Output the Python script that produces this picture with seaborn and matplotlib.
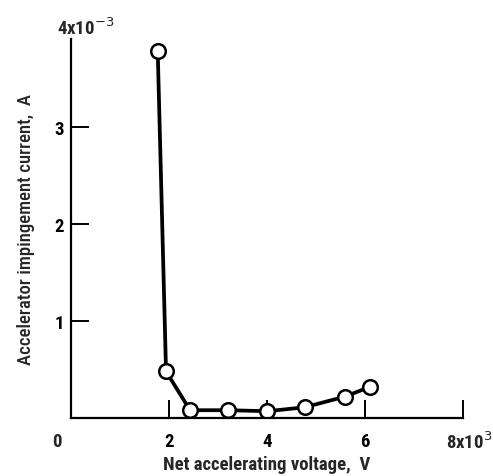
import matplotlib
matplotlib.use("Agg")
import matplotlib.pyplot as plt
import seaborn as sns
import pandas as pd
from matplotlib import font_manager

# Data (voltage in units of 10^3 V, current in units of 10^-3 A)
voltage = [1.77, 1.94, 2.43, 3.21, 4.01, 4.77, 5.59, 6.10]
current = [3.78, 0.48, 0.08, 0.08, 0.07, 0.11, 0.22, 0.32]
x_ticks = [2, 4, 6, 8]
x_tick_labels = ["2", "4", "6", ""]
y_ticks = [1, 2, 3]
y_tick_labels = ["1", "2", "3"]

df = pd.DataFrame({"voltage": voltage, "current": current})

sns.set_theme(style="ticks")
names = {f.name for f in font_manager.fontManager.ttflist}
fam = [f for f in ["Roboto Condensed", "Liberation Sans Narrow", "DejaVu Sans"] if f in names]
plt.rcParams["font.family"] = fam

fig = plt.figure(figsize=(4.93, 4.77), dpi=100)
ax = fig.add_axes([0.144, 0.1216, 0.795, 0.7944])

sns.lineplot(data=df, x="voltage", y="current", ax=ax, color="black",
             linewidth=2.7, marker="o", markersize=10.5, markerfacecolor="white",
             markeredgecolor="black", markeredgewidth=1.8, sort=False)

ax.set_xlim(0, 8)
ax.set_ylim(0, 3.9)
ax.set_xticks(x_ticks)
ax.set_xticklabels(x_tick_labels, fontweight="bold")
ax.set_yticks(y_ticks)
ax.set_yticklabels(y_tick_labels, fontweight="bold")
ax.tick_params(direction="in", length=13, width=1.4, labelsize=13.5, colors="black")
ax.tick_params(axis="x", pad=10)
ax.tick_params(axis="y", pad=5)
for s in ["top", "right"]:
    ax.spines[s].set_visible(False)
for s in ["left", "bottom"]:
    ax.spines[s].set_linewidth(1.6)
    ax.spines[s].set_color("black")

ax.set_xlabel("Net accelerating voltage,  V", fontsize=13.5, fontweight="bold", labelpad=4)
ax.set_ylabel("Accelerator impingement current,  A", fontsize=13.5, fontweight="medium", labelpad=14)

ax.text(-0.025, -0.062, "0", transform=ax.transAxes, ha="right", va="center",
        fontsize=13.5, fontweight="bold")
fig.text(0.998, 0.073, "8x10$^3$", ha="right", va="center", fontsize=13.5, fontweight="bold")
fig.text(57 / 493, 1 - 28 / 477, "4x10$^{-3}$", ha="left", va="center", fontsize=13.5, fontweight="bold")

fig.savefig("out.png", dpi=100)
